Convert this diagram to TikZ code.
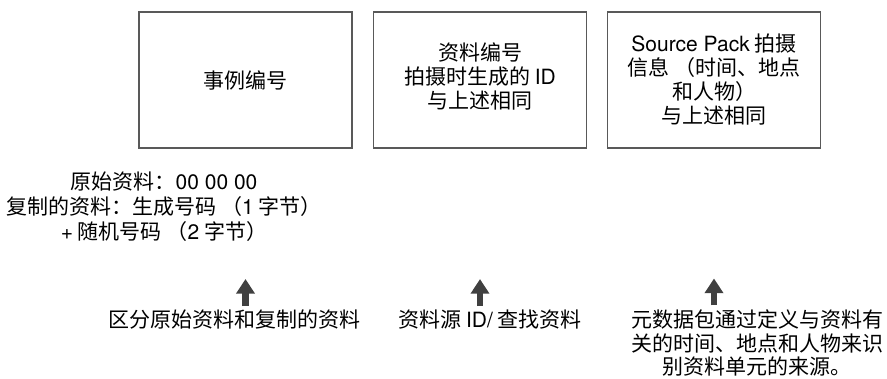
\documentclass[tikz,border=0pt]{standalone}
\usepackage{fontspec}
\setmainfont{Noto Sans CJK SC}
\newfontfamily\lat{TeX Gyre Heros}
\usetikzlibrary{arrows.meta, positioning}

\begin{document}
\begin{tikzpicture}[
    x=0.75pt, y=-0.75pt,
    card/.style={draw=black!65, line width=0.8pt, align=center, inner sep=0pt,
                 minimum width=159.75pt, minimum height=102pt,
                 font=\fontsize{15.75}{18}\selectfont},
    note/.style={align=center, inner sep=0pt,
                 font=\fontsize{15.75}{18.75}\selectfont},
    pointer/.style={-{Triangle[length=11pt, width=13.5pt]}, line width=5pt,
                    draw=black!75},
]
\useasboundingbox (0,0) rectangle (887,378);
\node[card] (case)  at (245.5,80) {事例编号};
\node[card] (mat)   at (480,80)   {资料编号\\拍摄时生成的 {\lat ID}\\与上述相同\\[-12pt]};
\node[card] (pack)  at (714,80)   {{\lat Source Pack} 拍摄\\信息 （时间、地点\\和人物）\\与上述相同};
\node[note] (codes) at (164,207)
   {原始资料：{\lat 00 00 00}\\复制的资料：生成号码 （{\lat 1} 字节）\\{\lat +} 随机号码 （{\lat 2} 字节）};
\node[note] (orig)  at (234,320) {区分原始资料和复制的资料};
\node[note] (src)   at (490,320) {资料源 {\lat ID/} 查找资料};
\node[note, font=\fontsize{15.75}{17.6}\selectfont] (meta) at (757,343)
   {元数据包通过定义与资料有\\关的时间、地点和人物来识\\别资料单元的来源。};
\draw[pointer] (orig.north -| case.south) ++(0,-4) -- ++(0,-27);
\draw[pointer] (src.north -| mat.south) ++(0,-4) -- ++(0,-27);
\draw[pointer] (meta.north -| pack.south) ++(0,-4) -- ++(0,-27);
\end{tikzpicture}
\end{document}
